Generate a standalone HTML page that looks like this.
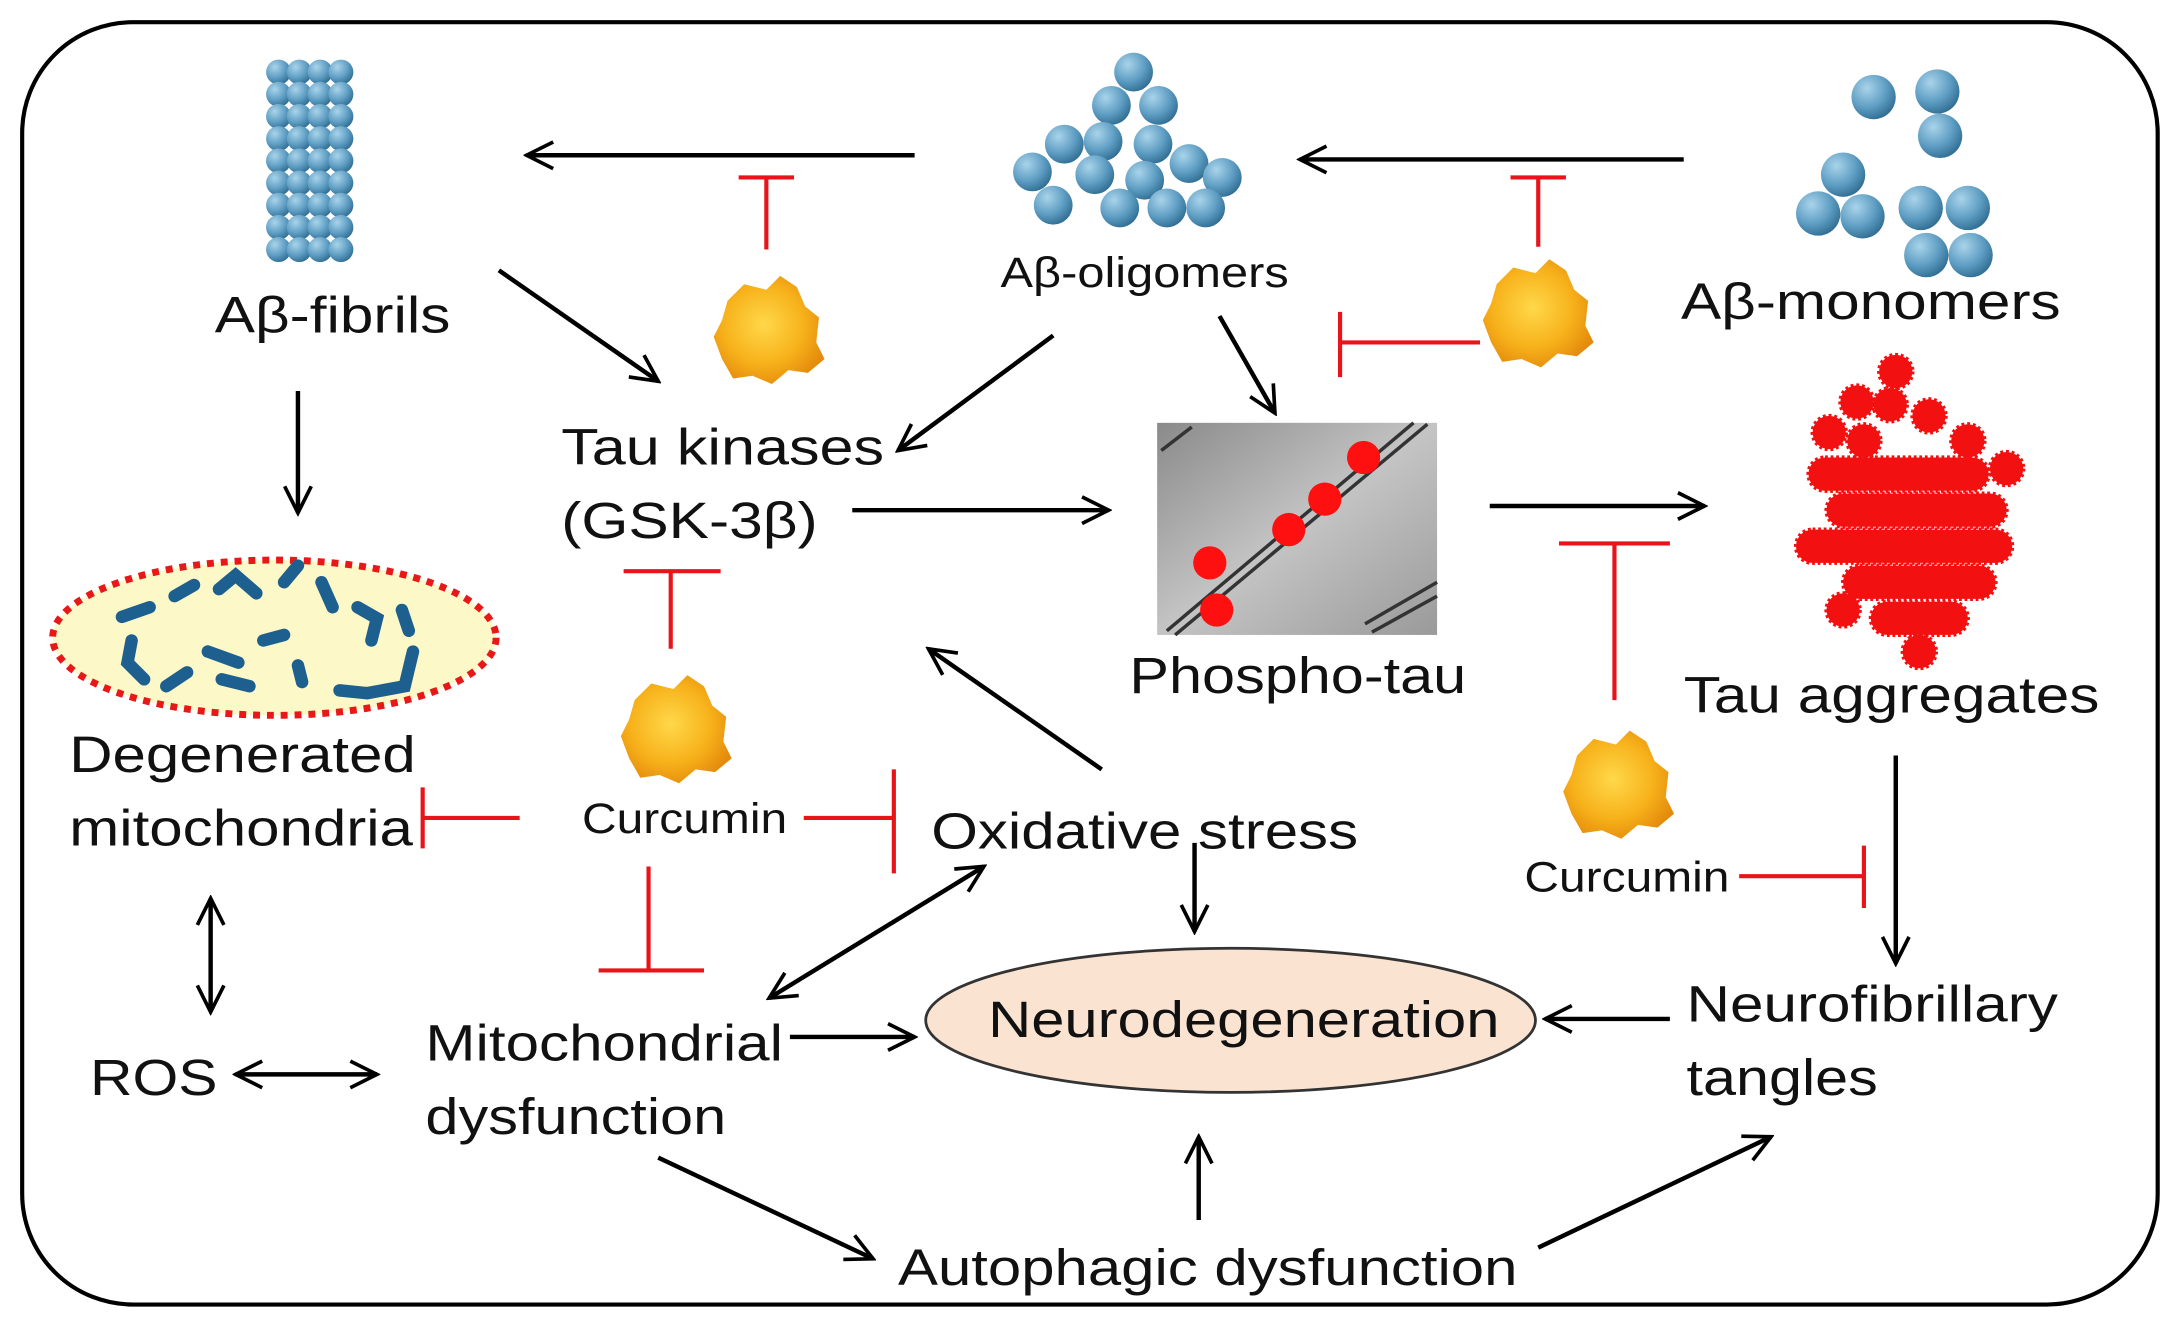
<!DOCTYPE html>
<html><head><meta charset="utf-8"><style>
html,body{margin:0;padding:0;background:#fff;}
svg{display:block;}
text{font-family:"Liberation Sans",sans-serif;fill:#111;}
</style></head><body>
<svg width="2166" height="1317" viewBox="0 0 1563 950" preserveAspectRatio="none" xmlns="http://www.w3.org/2000/svg">
<defs>
<radialGradient id="sp" cx="0.35" cy="0.3" r="0.75"><stop offset="0" stop-color="#a9d4ea"/><stop offset="0.6" stop-color="#5d9cc2"/><stop offset="1" stop-color="#2f6c91"/></radialGradient>
<radialGradient id="cu" cx="0.45" cy="0.45" r="0.6"><stop offset="0" stop-color="#ffd84a"/><stop offset="0.6" stop-color="#f7b21b"/><stop offset="1" stop-color="#e48a0c"/></radialGradient>
<linearGradient id="gr" x1="0" y1="0" x2="1" y2="1"><stop offset="0" stop-color="#8a8a8a"/><stop offset="0.5" stop-color="#c4c4c4"/><stop offset="1" stop-color="#9a9a9a"/></linearGradient>
<marker id="ah" viewBox="0 0 20 20" refX="18" refY="10" markerWidth="24" markerHeight="24" orient="auto-start-reverse" markerUnits="userSpaceOnUse"><path d="M2,2 L18,10 L2,18" fill="none" stroke="#000" stroke-width="2.2"/></marker>
<g id="cur"><path d="M-30,-20 L-18,-32 L-2,-28 L8,-38 L20,-30 L26,-16 L36,-8 L34,10 L40,22 L28,32 L14,30 L2,40 L-12,34 L-26,36 L-34,22 L-40,6 L-34,-6 Z" fill="url(#cu)"/></g>
<g id="frow" fill="url(#sp)"><circle cx="201" cy="0" r="9"/><circle cx="216" cy="0" r="9"/><circle cx="231" cy="0" r="9"/><circle cx="246" cy="0" r="9"/></g>
</defs>
<rect x="16" y="16" width="1541" height="925" rx="80" ry="80" fill="none" stroke="#000" stroke-width="3"/>

<g fill="url(#sp)">
<use href="#frow" y="52"/><use href="#frow" y="68"/><use href="#frow" y="84"/><use href="#frow" y="100"/><use href="#frow" y="116"/><use href="#frow" y="132"/><use href="#frow" y="148"/><use href="#frow" y="164"/><use href="#frow" y="180"/>
<circle cx="818" cy="52" r="14"/><circle cx="802" cy="76" r="14"/><circle cx="836" cy="76" r="14"/><circle cx="768" cy="104" r="14"/><circle cx="796" cy="102" r="14"/><circle cx="832" cy="104" r="14"/><circle cx="858" cy="118" r="14"/><circle cx="745" cy="124" r="14"/><circle cx="790" cy="126" r="14"/><circle cx="882" cy="128" r="14"/><circle cx="760" cy="148" r="14"/><circle cx="826" cy="130" r="14"/><circle cx="842" cy="150" r="14"/><circle cx="808" cy="150" r="14"/><circle cx="870" cy="150" r="14"/>
<circle cx="1352" cy="70" r="16"/><circle cx="1398" cy="66" r="16"/><circle cx="1400" cy="98" r="16"/><circle cx="1330" cy="126" r="16"/><circle cx="1312" cy="154" r="16"/><circle cx="1344" cy="156" r="16"/><circle cx="1386" cy="150" r="16"/><circle cx="1420" cy="150" r="16"/><circle cx="1390" cy="184" r="16"/><circle cx="1422" cy="184" r="16"/>
</g>

<use href="#cur" x="555" y="237"/>
<use href="#cur" x="1110" y="225"/>
<use href="#cur" x="488" y="525"/>
<use href="#cur" x="1168" y="565"/>

<rect x="835" y="305" width="202" height="153" fill="url(#gr)"/>
<g stroke="#333" stroke-width="2.5" fill="none">
<path d="M842,455 L1020,305"/><path d="M848,458 L1030,306"/><path d="M838,325 L860,308"/><path d="M985,450 L1037,420"/><path d="M990,456 L1037,430"/>
</g>
<g fill="#ff1010"><circle cx="984" cy="330" r="12"/><circle cx="956" cy="360" r="12"/><circle cx="930" cy="382" r="12"/><circle cx="873" cy="406" r="12"/><circle cx="878" cy="440" r="12"/></g>

<g fill="#f21010" stroke="#f21010" stroke-width="3" stroke-dasharray="2 2">
<circle cx="1368" cy="268" r="12"/><circle cx="1340" cy="290" r="12"/><circle cx="1364" cy="292" r="12"/><circle cx="1392" cy="300" r="12"/>
<circle cx="1320" cy="312" r="12"/><circle cx="1345" cy="318" r="12"/><circle cx="1420" cy="318" r="12"/>
<rect x="1305" y="330" width="130" height="24" rx="12"/><circle cx="1448" cy="338" r="12"/>
<rect x="1318" y="356" width="130" height="24" rx="12"/>
<rect x="1296" y="382" width="156" height="24" rx="12"/>
<rect x="1330" y="408" width="110" height="24" rx="12"/>
<rect x="1350" y="434" width="70" height="24" rx="12"/><circle cx="1330" cy="440" r="12"/>
<circle cx="1385" cy="470" r="12"/>
</g>

<ellipse cx="198" cy="460" rx="160" ry="56" fill="#fcf8c8" stroke="#e81818" stroke-width="5" stroke-dasharray="5 5"/>
<g stroke="#1d5f8f" stroke-width="9" stroke-linecap="round" fill="none">
<path d="M88,445 L108,438"/><path d="M95,462 L92,478 L104,490"/><path d="M126,430 L140,422"/><path d="M158,425 L170,415 L185,428"/><path d="M205,420 L215,408"/><path d="M232,420 L240,438"/><path d="M258,438 L272,446 L268,462"/><path d="M150,470 L172,478"/><path d="M190,462 L205,458"/><path d="M120,495 L135,485"/><path d="M160,490 L180,495"/><path d="M215,480 L218,492"/><path d="M245,498 L265,500 L292,495 L298,470"/><path d="M295,455 L290,440"/>
</g>

<ellipse cx="888" cy="736" rx="220" ry="52" fill="#fbe3d2" stroke="#333" stroke-width="2"/>

<g stroke="#000" stroke-width="3.2" fill="none" marker-end="url(#ah)">
<path d="M660,112 L380,112"/>
<path d="M1215,115 L938,115"/>
<path d="M360,195 L475,275"/>
<path d="M760,242 L648,325"/>
<path d="M880,228 L920,298"/>
<path d="M615,368 L800,368"/>
<path d="M1075,365 L1230,365"/>
<path d="M215,282 L215,370"/>
<path d="M795,555 L670,468"/>
<path d="M862,608 L862,672"/>
<path d="M1368,545 L1368,695"/>
<path d="M1205,735 L1115,735"/>
<path d="M570,748 L660,748"/>
<path d="M475,835 L630,908"/>
<path d="M865,880 L865,820"/>
<path d="M1110,900 L1278,820"/>
<path d="M152,648 L152,730" marker-start="url(#ah)"/>
<path d="M170,775 L272,775" marker-start="url(#ah)"/>
<path d="M555,720 L710,625" marker-start="url(#ah)"/>
</g>

<g stroke="#e8141a" stroke-width="3" fill="none">
<path d="M553,180 L553,128 M533,128 L573,128"/>
<path d="M1110,178 L1110,128 M1090,128 L1130,128"/>
<path d="M1068,247 L967,247 M967,225 L967,272"/>
<path d="M484,468 L484,412 M450,412 L520,412"/>
<path d="M1165,505 L1165,392 M1125,392 L1205,392"/>
<path d="M375,590 L305,590 M305,568 L305,612"/>
<path d="M580,590 L645,590 M645,555 L645,630"/>
<path d="M468,625 L468,700 M432,700 L508,700"/>
<path d="M1255,632 L1345,632 M1345,610 L1345,655"/>
</g>

<g font-size="37" lengthAdjust="spacingAndGlyphs">
<text x="155" y="240" textLength="170" lengthAdjust="spacingAndGlyphs">Aβ-fibrils</text>
<text x="1213" y="230" textLength="274" lengthAdjust="spacingAndGlyphs">Aβ-monomers</text>
<text x="405" y="335" textLength="233" lengthAdjust="spacingAndGlyphs">Tau kinases</text>
<text x="405" y="388" textLength="185" lengthAdjust="spacingAndGlyphs">(GSK-3β)</text>
<text x="815" y="500" textLength="243" lengthAdjust="spacingAndGlyphs">Phospho-tau</text>
<text x="1215" y="514" textLength="300" lengthAdjust="spacingAndGlyphs">Tau aggregates</text>
<text x="50" y="557" textLength="250" lengthAdjust="spacingAndGlyphs">Degenerated</text>
<text x="50" y="610" textLength="248" lengthAdjust="spacingAndGlyphs">mitochondria</text>
<text x="672" y="612" textLength="308" lengthAdjust="spacingAndGlyphs">Oxidative stress</text>
<text x="713" y="748" textLength="369" lengthAdjust="spacingAndGlyphs">Neurodegeneration</text>
<text x="1217" y="737" textLength="268" lengthAdjust="spacingAndGlyphs">Neurofibrillary</text>
<text x="1217" y="790" textLength="138" lengthAdjust="spacingAndGlyphs">tangles</text>
<text x="65" y="790" textLength="92" lengthAdjust="spacingAndGlyphs">ROS</text>
<text x="307" y="765" textLength="258" lengthAdjust="spacingAndGlyphs">Mitochondrial</text>
<text x="307" y="818" textLength="217" lengthAdjust="spacingAndGlyphs">dysfunction</text>
<text x="648" y="927" textLength="447" lengthAdjust="spacingAndGlyphs">Autophagic dysfunction</text>
</g>
<g font-size="31">
<text x="722" y="207" textLength="208" lengthAdjust="spacingAndGlyphs">Aβ-oligomers</text>
<text x="420" y="601" textLength="148" lengthAdjust="spacingAndGlyphs">Curcumin</text>
<text x="1100" y="643" textLength="148" lengthAdjust="spacingAndGlyphs">Curcumin</text>
</g>
</svg>
</body></html>
